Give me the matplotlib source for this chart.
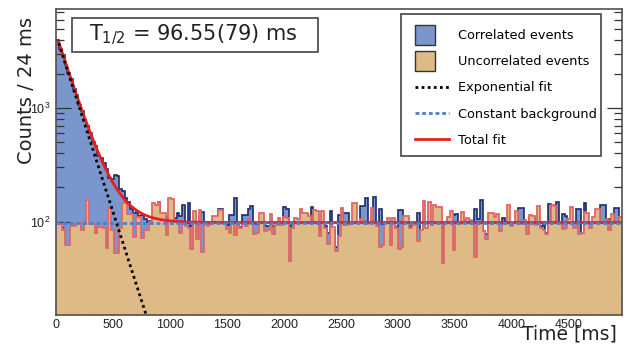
import numpy as np
import matplotlib.pyplot as plt
from matplotlib.patches import Patch, Rectangle
from matplotlib.lines import Line2D
from matplotlib.legend_handler import HandlerPatch
from matplotlib.ticker import MultipleLocator, NullFormatter

# histogram contents, one value per 24 ms bin
BIN_WIDTH = 24

correlated = [
    4000, 3350, 2950, 2400, 2050, 1800, 1480, 1300, 1060, 950,
    780, 700, 600, 500, 460, 380, 360, 330, 290, 240,
    235, 258, 250, 195, 185, 160, 150, 130, 118, 125,
    113, 114, 105, 100, 102, 98, 110,
    148, 105, 110, 95, 112, 100, 108, 118, 113, 140,
    98, 147, 92, 100, 96, 110, 121, 96, 88, 100,
    104, 96, 130, 128, 100, 94, 114, 114, 162, 95,
    90, 114, 114, 130,
    136, 98, 96, 100, 104, 91, 91, 100, 92, 90,
    96, 90, 133, 130, 91, 95, 100, 98, 105, 100,
    95, 98, 134, 100, 96, 85, 98, 92, 80, 124,
    85, 60, 114, 100, 119, 119, 92, 100, 102, 97,
    136, 136, 162, 98,
    105, 163, 90, 130, 96, 92, 95, 98, 97, 90,
    127, 127, 96, 100, 92, 88, 89, 118, 83, 100,
    86, 95, 90, 100, 98, 97, 88, 95, 100, 98,
    114, 116, 94, 99, 100, 98, 100, 97, 130, 105,
    155, 83, 78, 100, 102, 96,
    98, 100, 107, 90, 96, 94, 97, 100, 132, 132,
    98, 98, 108, 108, 90, 100, 92, 100, 80, 143,
    99, 97, 149, 92, 116, 112, 98, 100, 100, 128,
    128, 72, 145, 100, 96, 100, 97, 99, 141, 141,
    100, 105, 96, 132, 132, 100,
]

uncorrelated = [
    95, 95, 84, 62, 62, 92, 92, 98, 98, 84,
    102, 155, 96, 96, 79, 90, 90, 87, 59, 132,
    84, 53, 53, 87, 146, 146, 117, 117, 73, 110,
    110, 72, 84, 84, 100, 146, 140,
    150, 118, 120, 76, 160, 158, 100, 98, 80, 95,
    92, 88, 57, 124, 70, 127, 54, 100, 92, 95,
    111, 111, 127, 126, 96, 86, 79, 95, 76, 100,
    88, 96, 92, 105,
    100, 78, 80, 119, 119, 82, 84, 117, 78, 94,
    107, 93, 110, 108, 45, 88, 107, 106, 129, 120,
    118, 112, 100, 127, 125, 74, 124, 88, 64, 95,
    90, 55, 74, 131, 93, 93, 96, 146, 146, 100,
    105, 103, 95, 97,
    132, 100, 92, 60, 62, 100, 107, 62, 108, 87,
    57, 60, 112, 112, 87, 95, 94, 68, 85, 152,
    87, 150, 93, 140, 133, 133, 43, 99, 110, 123,
    56, 100, 96, 121, 104, 108, 104, 100, 49, 96,
    100, 83, 70, 120, 118, 110,
    116, 82, 95, 95, 140, 92, 97, 125, 96, 95,
    104, 78, 115, 112, 94, 138, 88, 84, 78, 100,
    140, 138, 100, 95, 86, 88, 105, 135, 88, 96,
    77, 80, 121, 118, 87, 109, 128, 128, 100, 98,
    105, 85, 117, 100, 98, 110,
]

# fit result
T_HALF = 96.55      # ms
AMPLITUDE = 4300    # counts per bin at t = 0
BACKGROUND = 98     # counts per bin
FIT_START = 20      # ms

BLUE = '#7a96cc'
NAVY = '#1c2b6b'
TAN = '#deba87'
RED_EDGE = '#e06666'
RED = '#e8201c'
BG_BLUE = '#4a7fd4'

edges = np.arange(len(correlated) + 1) * BIN_WIDTH

fig = plt.figure(figsize=(6.27, 3.45), dpi=100)
ax = fig.add_axes([0.09, 0.087, 0.902, 0.8855])
ax.set_yscale('log')
ax.set_axisbelow(True)  # ticks sit under the uncorrelated fill, like ROOT

ax.stairs(correlated, edges, fill=True, color=BLUE, baseline=1, zorder=0.2)
ax.stairs(correlated, edges, color=NAVY, lw=1.2, baseline=None, zorder=0.3)
ax.stairs(uncorrelated, edges, fill=True, color=TAN, baseline=1, zorder=1)
ax.stairs(uncorrelated, edges, color=RED_EDGE, lw=1.3, baseline=None, zorder=1.1)

t = np.linspace(FIT_START, edges[-1], 1200)
decay = AMPLITUDE * np.exp(-np.log(2) * t / T_HALF)
ax.plot(t, decay + BACKGROUND, color=RED, lw=2, zorder=3)
ax.axhline(BACKGROUND, color=BG_BLUE, lw=2, ls=(0, (1.4, 1.0)), zorder=3.5)
ax.plot(t, decay, color='black', lw=2, ls=(0, (1, 1.2)), zorder=4)

ax.set_xlim(0, edges[-1])
ax.set_ylim(15, 7400)
ax.xaxis.set_major_locator(MultipleLocator(500))
ax.xaxis.set_minor_locator(MultipleLocator(100))
ax.yaxis.set_minor_formatter(NullFormatter())

ax.tick_params(axis='both', which='both', direction='in', right=True, top=False,
               color='#333333', labelcolor='#222222', labelfontfamily='Liberation Sans')
ax.tick_params(axis='both', which='major', length=10.8, width=0.9, labelsize=9)
ax.tick_params(axis='both', which='minor', length=5.8, width=0.9)
ax.tick_params(axis='y', which='major', pad=4.5)
ax.tick_params(axis='x', which='major', pad=3)

for s in ax.spines.values():
    s.set_color('#505050')
    s.set_linewidth(1.2)

ax.set_ylabel('Counts / 24 ms', fontsize=14, loc='top', color='#222222')
ax.yaxis.set_label_coords(-0.037, 0.975)
ax.set_xlabel('Time [ms]', fontsize=13.5, loc='right', color='#222222')
ax.xaxis.set_label_coords(0.991, -0.03)

# half-life box
ax.add_patch(Rectangle((0.0276, 0.861), 0.4349, 0.111, transform=ax.transAxes,
                       facecolor='white', edgecolor='#444444', lw=1.2, zorder=5))
ax.text(0.2426, 0.900, r'T$_{\mathdefault{1/2}}$ = 96.55(79) ms', transform=ax.transAxes,
        ha='center', va='baseline', fontsize=15, color='#222222', zorder=6)


def square_patch(legend, orig_handle, xdescent, ydescent, width, height, fontsize):
    side = 14.4
    return Rectangle((-xdescent, -ydescent + height / 2 - side / 2), side, side)


# legend frame drawn separately so the entries can sit off-centre like in ROOT
ax.add_patch(Rectangle((0.609, 0.5205), 0.3536, 0.4648, transform=ax.transAxes,
                       facecolor='white', edgecolor='#444444', lw=1.2, zorder=5))

handles = [
    Patch(facecolor=BLUE, edgecolor='#333333', lw=1),
    Patch(facecolor=TAN, edgecolor='#333333', lw=1),
    Line2D([], [], color='black', lw=2, ls=(0, (1, 1.2))),
    Line2D([], [], color=BG_BLUE, lw=2, ls=(0, (1.4, 1.0))),
    Line2D([], [], color=RED, lw=2),
]
labels = ['Correlated events', 'Uncorrelated events', 'Exponential fit',
          'Constant background', 'Total fit']
leg = ax.legend(handles, labels, loc='upper left', bbox_to_anchor=(0.634, 0.936),
                borderaxespad=0, borderpad=0, fontsize=9.3, handlelength=2.63,
                handletextpad=0.7, labelspacing=1.02, frameon=False,
                handler_map={Patch: HandlerPatch(patch_func=square_patch)})
leg.set_zorder(6)

fig.savefig('out.png', dpi=100)
